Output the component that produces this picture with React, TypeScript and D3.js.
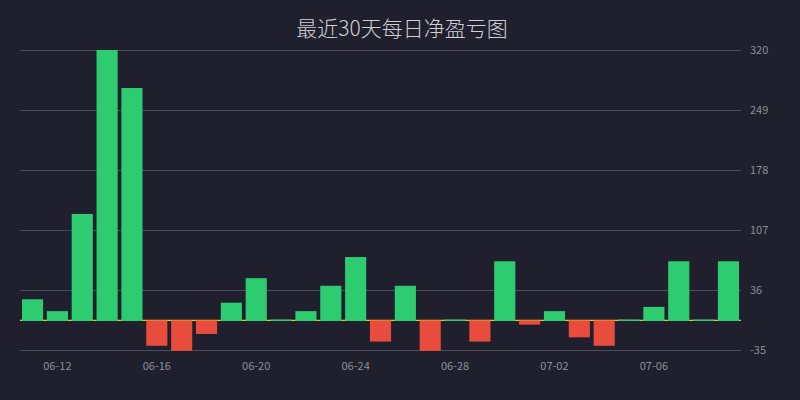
import { useEffect, useRef } from "react"
import * as d3 from "d3"

const dates = [
  "06-11", "06-12", "06-13", "06-14", "06-15", "06-16", "06-17", "06-18", "06-19", "06-20",
  "06-21", "06-22", "06-23", "06-24", "06-25", "06-26", "06-27", "06-28", "06-29", "06-30",
  "07-01", "07-02", "07-03", "07-04", "07-05", "07-06", "07-07", "07-08", "07-09",
]

const pnl = [
  25, 11, 126, 320, 275, -30, -36, -16, 21, 50,
  1, 11, 41, 75, -25, 41, -36, 1, -25, 70,
  -5, 11, -20, -30, 1, 16, 70, 1, 70,
]

const yTicks = [-35, 36, 107, 178, 249, 320]
const xTickLabels = ["06-12", "06-16", "06-20", "06-24", "06-28", "07-02", "07-06"]

const W = 800
const H = 400
const FONT = "'Noto Sans CJK SC', 'Noto Sans', sans-serif"

export default function App() {
  const ref = useRef<SVGSVGElement>(null)

  useEffect(() => {
    if (!ref.current) return
    const svg = d3.select(ref.current)
    svg.selectAll("*").remove()

    const left = 20
    const right = 741
    const top = 50
    const bottom = 350

    const x = d3.scaleBand<string>().domain(dates).range([left, right]).paddingInner(0.15).paddingOuter(0.08)
    const y = d3.scaleLinear().domain([-35, 320]).range([bottom, top])

    svg.append("rect").attr("width", W).attr("height", H).attr("fill", "#1f1f2e")

    svg.append("text")
      .attr("x", 402)
      .attr("y", 36)
      .attr("text-anchor", "middle")
      .attr("font-family", FONT)
      .attr("font-size", 21)
      .attr("font-weight", 300)
      .attr("fill", "#cfcfd4")
      .text("最近30天每日净盈亏图")

    // grid + right axis labels
    const grid = svg.append("g")
    grid.selectAll("line")
      .data(yTicks)
      .join("line")
      .attr("x1", left)
      .attr("x2", right)
      .attr("y1", (d) => Math.round(y(d)) + 0.5)
      .attr("y2", (d) => Math.round(y(d)) + 0.5)
      .attr("stroke", "#4b4b5a")
      .attr("stroke-width", 1)

    grid.selectAll("text")
      .data(yTicks)
      .join("text")
      .attr("x", 750)
      .attr("y", (d) => y(d))
      .attr("dy", "0.35em")
      .attr("font-family", FONT)
      .attr("font-size", 11)
      .attr("fill", "#8e8e96")
      .text((d) => String(d))

    // zero line
    svg.append("line")
      .attr("x1", left)
      .attr("x2", right)
      .attr("y1", y(0))
      .attr("y2", y(0))
      .attr("stroke", "#f1c40f")
      .attr("stroke-width", 1.2)

    svg.append("g")
      .selectAll("rect")
      .data(pnl.map((v, i) => ({ v, d: dates[i] })))
      .join("rect")
      .attr("x", (d) => x(d.d) ?? 0)
      .attr("width", x.bandwidth())
      .attr("y", (d) => (d.v >= 0 ? y(d.v) : y(0)))
      .attr("height", (d) => Math.abs(y(d.v) - y(0)) + (d.v >= 0 ? 0.6 : 0))
      .attr("fill", (d) => (d.v >= 0 ? "#2ecc71" : "#e74c3c"))

    // x labels
    svg.append("g")
      .selectAll("text")
      .data(xTickLabels)
      .join("text")
      .attr("x", (d) => (x(d) ?? 0) + x.bandwidth() / 2)
      .attr("y", 370)
      .attr("text-anchor", "middle")
      .attr("font-family", FONT)
      .attr("font-size", 11)
      .attr("fill", "#8e8e96")
      .text((d) => d)
  }, [])

  return (
    <svg
      ref={ref}
      width={W}
      height={H}
      style={{ position: "absolute", left: 0, top: 0, display: "block" }}
    />
  )
}
